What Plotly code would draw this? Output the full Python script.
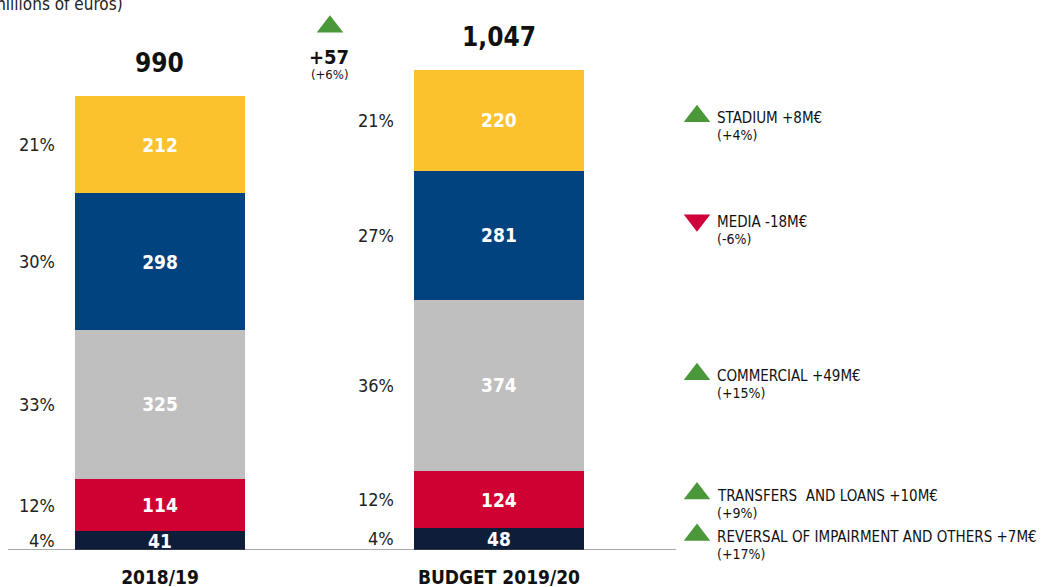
import plotly.graph_objects as go

# ---- data ----
seasons = ["2018/19", "BUDGET 2019/20"]
segments = ["Reversal of impairment and others", "Transfers and loans", "Commercial", "Media", "Stadium"]
values_2018 = [41, 114, 325, 298, 212]
values_2019 = [48, 124, 374, 281, 220]
pct_2018 = ["4%", "12%", "33%", "30%", "21%"]
pct_2019 = ["4%", "12%", "36%", "27%", "21%"]
totals = ["990", "1,047"]
total_values = [990, 1047]
delta_text = "+57"
delta_pct = "(+6%)"
change_labels = ["REVERSAL OF IMPAIRMENT AND OTHERS +7M€", "TRANSFERS  AND LOANS +10M€",
                 "COMMERCIAL +49M€", "MEDIA -18M€", "STADIUM +8M€"]
change_pcts = ["(+17%)", "(+9%)", "(+15%)", "(-6%)", "(+4%)"]
change_up = [True, True, True, False, True]

colors = ["#0d1d3a", "#cf0032", "#bfbfbf", "#00437f", "#fbc22d"]
FONT = "Liberation Sans Narrow, DejaVu Sans Condensed, Roboto Condensed, Roboto, sans-serif"
GREEN = "#4a983a"
RED = "#d0023a"
PX_PER_UNIT = 550 / 1199.3

fig = go.Figure()
for i, seg in enumerate(segments):
    fig.add_trace(go.Bar(
        x=seasons, y=[values_2018[i], values_2019[i]], name=seg,
        marker=dict(color=colors[i], line=dict(width=0)),
        width=0.5015,
        text=[str(values_2018[i]), str(values_2019[i])],
        textposition="inside", insidetextanchor="middle", textangle=0,
        textfont=dict(family=FONT, size=19, color="white", weight="bold"),
        constraintext="none", cliponaxis=False, showlegend=False,
        hoverinfo="skip",
    ))

ann = []
for j, (vals, pcts) in enumerate([(values_2018, pct_2018), (values_2019, pct_2019)]):
    cum = 0
    for v, p in zip(vals, pcts):
        mid = cum + v / 2
        cum += v
        ann.append(dict(x=seasons[j], y=mid, text=p, showarrow=False, xanchor="right",
                        xshift=-103, font=dict(family=FONT, size=18, color="#222")))
    ann.append(dict(x=seasons[j], y=total_values[j], text=totals[j], showarrow=False,
                    yanchor="bottom", yshift=16,
                    font=dict(family=FONT, size=26, color="#111", weight="bold")))

# delta between the bars
ann.append(dict(x=0.5, y=total_values[1], xref="x", text=delta_text, showarrow=False,
                yanchor="middle", yshift=13, font=dict(family=FONT, size=20, color="#111", weight="bold")))
ann.append(dict(x=0.5, y=total_values[1], xref="x", text=delta_pct, showarrow=False,
                yanchor="middle", yshift=-5, font=dict(family=FONT, size=13, color="#111")))

# triangles (markers)
tri_x = [330]
tri_y = [total_values[1] + 43 / PX_PER_UNIT]
tri_sym = ["triangle-up"]
tri_col = [GREEN]

label_shift = [-2, -4, -9, -13, -2]
cum = 0
for k, v in enumerate(values_2019):
    mid = cum + v / 2
    cum += v
    s = label_shift[k]
    tri_x.append(697)
    tri_y.append(mid - (s - 2) / PX_PER_UNIT)
    tri_sym.append("triangle-up" if change_up[k] else "triangle-down")
    tri_col.append(GREEN if change_up[k] else RED)
    ann.append(dict(x=716, xref="x2", y=mid, xanchor="left", align="left", showarrow=False,
                    yshift=-s, text=change_labels[k], borderpad=0,
                    font=dict(family=FONT, size=15, color="#111")))
    ann.append(dict(x=716, xref="x2", y=mid, xanchor="left", align="left", showarrow=False,
                    yshift=-s - 17, text=change_pcts[k], borderpad=0,
                    font=dict(family=FONT, size=14, color="#111")))

fig.add_trace(go.Scatter(x=tri_x, y=tri_y, xaxis="x2", mode="markers",
                         marker=dict(symbol=tri_sym, color=tri_col, size=23, line=dict(width=0)),
                         showlegend=False, hoverinfo="skip", cliponaxis=False))

# unit title (cut off at left, as in the source)
ann.append(dict(x=125 / 1064, y=1.0, xref="paper", yref="paper", xanchor="right", yanchor="middle",
                yshift=-4, text="(millions of euros)", showarrow=False,
                font=dict(family=FONT, size=17, color="#222")))

fig.update_layout(
    width=1064, height=587,
    margin=dict(l=0, r=0, t=0, b=37, autoexpand=False),
    paper_bgcolor="white", plot_bgcolor="white",
    barmode="stack",
    annotations=ann,
    xaxis=dict(type="category", range=[-0.472, 2.667], showgrid=False, zeroline=False,
               showline=False, ticks="", ticklabelstandoff=14, automargin=False,
               tickfont=dict(family=FONT, size=19, color="#111", weight="bold")),
    xaxis2=dict(range=[0, 1064], overlaying="x", visible=False, fixedrange=True),
    yaxis=dict(range=[0, 1199.3], visible=False),
    shapes=[dict(type="line", xref="x2", yref="y", x0=8, x1=676, y0=0, y1=0,
                 line=dict(color="#555", width=1))],
)

fig.write_html("out.html", config={"displayModeBar": False},
               post_script="document.body.style.margin='0';")
